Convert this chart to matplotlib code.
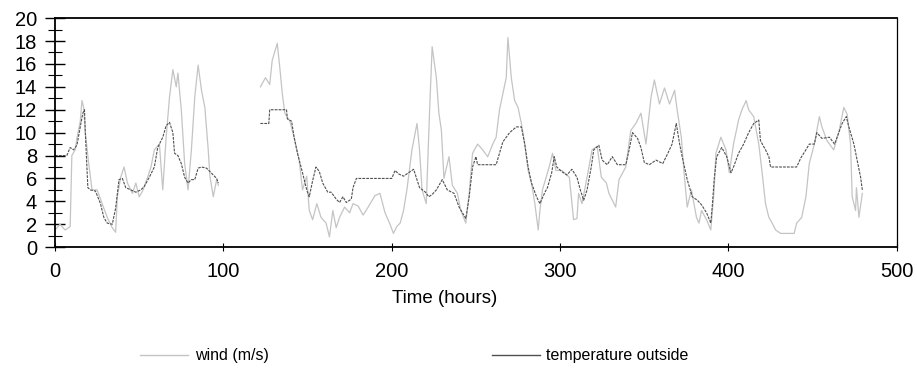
import numpy as np
import matplotlib
matplotlib.use("Agg")
import matplotlib.pyplot as plt
from matplotlib.lines import Line2D
from matplotlib.ticker import MultipleLocator

# wind (m/s), nan = missing records
wind_hours = [0, 3, 6, 9, 10, 12, 13, 15, 16, 17, 18, 20, 22, 25, 28, 31, 34, 36, 37, 39,
              41, 43, 46, 48, 50, 52, 55, 57, 59, 62, 64, 66, 68, 70, 72, 73, 75, 77, 79, 81,
              83, 85, 87, 89, 91, 92, 94, 96, 97,
              110,
              122, 125, 127.5, 129, 132, 133.5, 135, 136.5, 139.5, 142, 145, 147, 149.5, 151,
              153, 155.5, 158, 161, 163, 165, 167, 169, 172, 175, 177, 180, 183, 186, 190, 193,
              196, 199, 201, 203, 205, 207, 209, 212, 215, 216.5, 218, 220.5, 222.5, 224,
              226.5, 228, 229.5, 231, 234, 236, 239, 241, 244, 246, 248, 251, 254, 257, 260,
              262, 264, 266, 268, 269, 271, 273, 275, 277, 279, 281, 283, 285, 287, 288,
              289.5, 293.5, 295.5, 297.5, 301, 305.5, 308, 310, 311, 313, 316, 319, 322,
              324.5, 327.5, 329, 333, 335, 339, 342, 345, 348, 351, 354, 356, 359, 362, 365,
              368, 369.5, 372, 373.5, 375.5, 378, 381, 382.5, 384, 387, 389.5, 391.5, 392.5,
              395.5, 398.5, 400.5, 403, 406, 408, 410.5, 412, 415, 418, 420, 422, 424, 426,
              428, 431, 439, 440.5, 443.5, 446, 448, 451, 454, 455.5, 458.5, 462.5, 465.5,
              468.5, 470.5, 472.5, 473.5, 475.5, 476, 477.5, 479.5]
wind = [1.5, 2.0, 1.5, 1.8, 8.0, 8.5, 9.5, 11.0, 12.8, 12.2, 10.0, 7.3, 5.0, 5.0, 3.8, 2.6,
        1.7, 1.3, 4.4, 6.1, 7.0, 5.6, 4.7, 5.6, 4.4, 4.9, 6.1, 7.0, 8.5, 9.0, 5.0, 9.6, 13.1,
        15.5, 14.0, 15.2, 12.0, 7.3, 5.0, 8.5, 13.1, 15.9, 13.7, 12.2, 8.5, 6.2, 4.4, 5.9, 5.4,
        np.nan,
        14.0, 14.8, 14.2, 16.3, 17.8, 15.7, 13.4, 11.7, 11.0, 9.6, 7.6, 5.0, 6.2, 3.2, 2.4,
        3.8, 2.6, 2.1, 0.9, 3.2, 1.7, 2.6, 3.5, 3.0, 3.8, 3.6, 2.8, 3.5, 4.5, 4.7, 3.0, 2.0,
        1.2, 1.8, 2.1, 3.2, 5.0, 8.5, 10.8, 8.5, 5.0, 3.8, 12.0, 17.5, 14.8, 11.7, 10.2, 6.0,
        7.9, 5.4, 4.7, 3.2, 2.1, 4.7, 8.2, 9.0, 8.5, 7.9, 9.0, 9.6, 12.0, 13.4, 14.8, 18.3,
        14.8, 12.8, 12.2, 10.8, 9.0, 6.7, 5.6, 3.8, 1.5, 3.2, 5.0, 7.0, 8.2, 6.7, 6.7, 6.1,
        2.4, 2.5, 4.7, 3.8, 6.1, 8.5, 8.8, 6.1, 5.6, 4.7, 3.5, 5.9, 7.0, 10.2, 10.8, 11.7,
        9.0, 13.1, 14.6, 12.5, 13.9, 12.5, 13.7, 12.0, 9.6, 6.7, 3.5, 5.0, 2.6, 2.1, 3.2, 2.4,
        1.5, 5.0, 8.2, 9.6, 8.5, 6.5, 9.0, 11.1, 12.0, 12.8, 12.0, 11.4, 9.0, 6.5, 3.8, 2.6,
        2.1, 1.5, 1.2, 1.2, 2.1, 2.6, 4.4, 7.3, 9.0, 11.4, 10.5, 9.3, 8.5, 10.0, 12.2, 11.6,
        9.0, 4.4, 3.2, 5.2, 2.6, 4.7]

# temperature outside
temp_hours = [0, 3, 7, 9, 11, 13, 15, 16.5, 17.5, 18, 19.5, 21, 24, 27, 29, 31, 34, 36, 38,
              40, 42, 45, 48, 51, 53, 56, 59, 61, 64, 66, 68, 70, 71, 73, 75, 77, 79, 81, 83,
              85, 87, 90, 92, 94, 96, 97,
              110,
              122, 127, 127.5, 137.5, 138, 140.5, 142, 144, 147, 149.5, 151, 153, 155, 157,
              159, 162, 164, 167, 169, 171, 173, 176, 177, 179, 200, 202, 204, 207, 210, 213,
              216.5, 220, 222, 224, 226.5, 230, 233, 237, 240, 244, 246, 248, 250, 251, 262,
              264, 266, 270, 274, 277, 279, 281, 283, 286, 288, 291, 292.5, 295, 296.5, 298,
              301, 304, 307, 310, 312, 314, 316, 318.5, 320, 323, 325, 328, 331, 334, 339,
              341, 343, 346, 348, 350, 353, 357, 361, 364, 366.5, 369, 371, 372.5, 375.5,
              378.5, 381.5, 384, 387, 389.5, 390.5, 391.5, 393, 396, 399, 401.5, 403, 406,
              409, 412, 415, 418, 419, 422, 424, 425, 440.5, 443, 446, 448, 451, 452.5, 455.5,
              460, 463, 466, 467.5, 470, 471.5, 474.5, 476, 478.5, 479.5]
temperature = [8.0, 8.0, 8.0, 8.7, 8.5, 8.9, 10.5, 11.7, 12.0, 10.0, 5.2, 5.0, 4.9, 3.8, 2.6,
               2.1, 2.0, 3.4, 5.9, 6.0, 5.2, 5.0, 4.8, 5.0, 5.3, 6.1, 7.0, 8.7, 9.6, 10.6,
               10.9, 10.0, 8.2, 8.0, 7.3, 6.1, 5.6, 5.9, 5.9, 6.9, 7.0, 6.9, 6.6, 6.3, 6.0, 5.6,
               np.nan,
               10.8, 10.8, 12.0, 12.0, 11.2, 11.0, 9.6, 8.2, 6.5, 5.0, 4.4, 5.8, 7.0, 6.6,
               5.6, 4.8, 4.8, 4.2, 3.9, 4.4, 3.9, 4.2, 5.2, 6.0, 6.0, 6.7, 6.4, 6.2, 6.5, 6.8,
               5.2, 4.8, 4.4, 4.6, 5.0, 5.9, 5.0, 4.7, 3.5, 2.5, 4.4, 7.0, 7.9, 7.2, 7.2, 8.2,
               9.2, 10.0, 10.5, 10.5, 9.0, 7.0, 5.6, 4.4, 3.8, 4.8, 5.2, 6.5, 7.9, 7.0, 6.6,
               6.3, 6.8, 6.1, 5.0, 4.1, 5.0, 7.0, 8.5, 8.9, 7.6, 7.2, 7.9, 7.2, 7.2, 8.5, 10.0,
               9.5, 8.7, 7.4, 7.2, 7.6, 7.3, 8.2, 9.0, 10.8, 9.0, 7.9, 5.9, 4.4, 4.1, 3.7, 3.0,
               2.1, 3.8, 5.9, 7.9, 8.7, 7.9, 6.5, 7.0, 8.2, 9.0, 10.0, 10.8, 11.1, 9.3, 8.5,
               7.9, 7.0, 7.0, 7.8, 8.5, 9.0, 9.0, 10.0, 9.5, 9.6, 9.0, 10.2, 10.8, 11.4, 10.5,
               9.0, 7.9, 6.1, 5.0]

wind_color = '#c4c4c4'
temp_color = '#505050'

plt.rcParams['font.family'] = ['Liberation Sans', 'DejaVu Sans']

fig = plt.figure(figsize=(9.17, 3.70), dpi=100)
ax = fig.add_axes([0.060, 0.332, 0.918, 0.619])

ax.plot(wind_hours, wind, color=wind_color, lw=0.9)
ax.plot(temp_hours, temperature, color=temp_color, lw=0.8, ls=(0, (2.5, 1)))

ax.set_xlim(0, 500)
ax.set_ylim(0, 20)
ax.xaxis.set_major_locator(MultipleLocator(100))
ax.yaxis.set_major_locator(MultipleLocator(2))
ax.yaxis.set_minor_locator(MultipleLocator(1))
ax.tick_params(axis='y', which='major', direction='inout', length=14, width=1.0,
               labelsize=14.5, pad=6)
ax.tick_params(axis='y', which='minor', direction='inout', length=10, width=0.8)
ax.tick_params(axis='x', which='major', direction='inout', length=6, width=0.8,
               labelsize=14.5, pad=8)
for s in ['left', 'bottom', 'top']:
    ax.spines[s].set_linewidth(1.3)
ax.spines['right'].set_linewidth(0.9)

ax.set_xlabel("Time (hours)", fontsize=13.5)
ax.xaxis.set_label_coords(0.463, -0.185)

# legend below the plot
handles = [Line2D([], [], color=wind_color, lw=1.0),
           Line2D([], [], color=temp_color, lw=1.0)]
fig.legend(handles, ["wind (m/s)", "temperature outside"], loc='center left',
           bbox_to_anchor=(0.153, 0.038), ncol=2, frameon=False, fontsize=11.5,
           handlelength=3.0, columnspacing=14.0, handletextpad=0.4,
           borderpad=0, borderaxespad=0)

fig.savefig("out.png", dpi=100)
